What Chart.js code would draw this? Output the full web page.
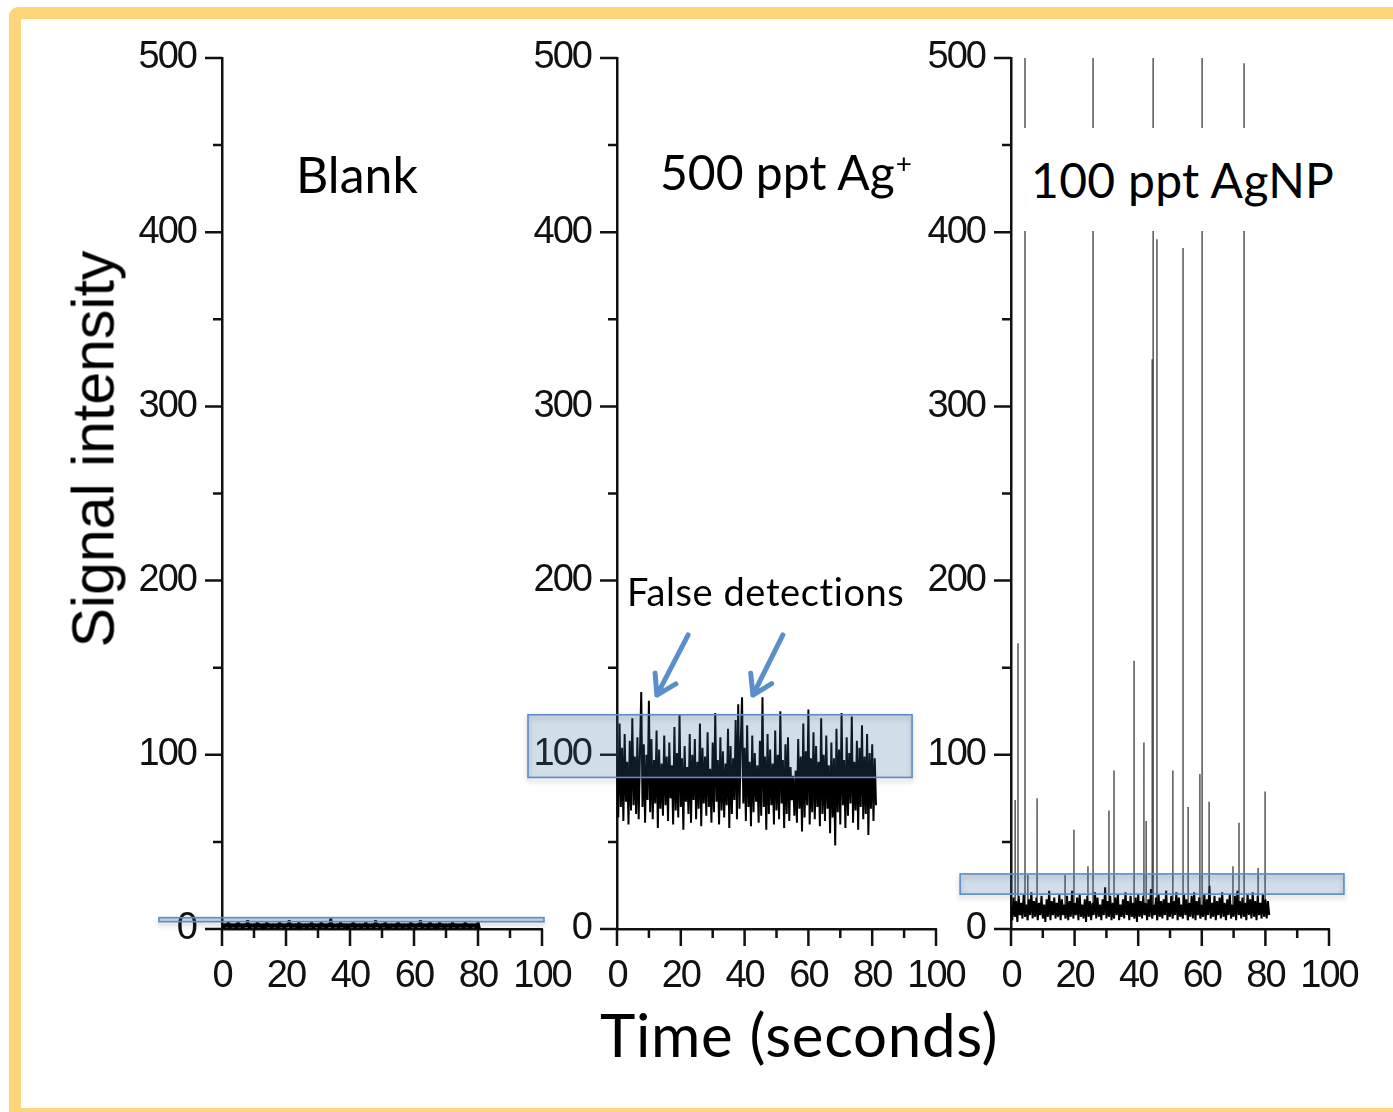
<!DOCTYPE html>
<html>
<head>
<meta charset="utf-8">
<title>Signal intensity vs time</title>
<script src="https://cdn.jsdelivr.net/npm/chart.js@4.4.1/dist/chart.umd.min.js"></script>
<style>
  body { margin: 0; background: #fff; width: 1393px; height: 1112px; overflow: hidden; position: relative; }
  .frame { position: absolute; left: 9px; top: 7px; width: 1420px; height: 1113px; border: 12px solid #fdd67b; border-radius: 9px; box-sizing: border-box; }
  canvas { position: absolute; top: 0; }
  .lbl { position: absolute; font-family: Lato, sans-serif; color: #000; white-space: nowrap; }
  .lbl sup { font-size: 0.58em; vertical-align: 0; position: relative; top: -0.62em; margin-left: 1px; }
</style>
</head>
<body>
<div class="frame"></div>
<canvas id="blankChart" width="475" height="1000" style="left:112px"></canvas>
<canvas id="ionChart" width="474" height="1000" style="left:507px"></canvas>
<canvas id="npChart" width="473" height="1000" style="left:901px"></canvas>

<div class="lbl" style="left:296px; top:149px; font-size:50px; line-height:50px;">Blank</div>
<div class="lbl" style="left:660px; top:148px; font-size:48px; line-height:48px;">500 ppt Ag<sup>+</sup></div>
<div class="lbl" style="left:1018px; top:128px; width:309px; height:103px; padding-left:13px; background:#fff; font-size:48px; line-height:103px; letter-spacing:0.3px;">100 ppt AgNP</div>
<div class="lbl" style="left:627px; top:572px; font-size:38px; line-height:38px; letter-spacing:0.6px;">False detections</div>
<div class="lbl" style="left:94px; top:449px; font-family:'Liberation Sans', Arial, sans-serif; font-size:59px; line-height:59px; transform:translate(-50%,-50%) rotate(-90deg);">Signal intensity</div>
<div class="lbl" style="left:600px; top:1004px; font-size:60px; line-height:60px; letter-spacing:0.7px;">Time (seconds)</div>

<script>
// ---- tick values (shared by all three panels) ----
const yTickValues  = [0, 100, 200, 300, 400, 500];
const yMinorValues = [50, 150, 250, 350, 450];
const xTickValues  = [0, 20, 40, 60, 80, 100];
const xMinorValues = [10, 30, 50, 70, 90];

// ---- Blank: detector counts, one reading every 0.5 s ----
const blankStep = 0.5;
const blankSignal = [
  3,0,3,1,4,0,3,1,3,0,4,1,3,0,3,1,5,0,3,1,3,0,4,1,3,0,3,0,4,1,
  3,0,3,1,3,0,4,1,3,0,3,1,5,0,3,1,3,0,4,0,3,1,3,0,3,1,4,0,3,1,
  3,0,4,1,3,0,3,1,6,0,3,1,3,0,4,1,3,0,3,0,3,1,4,0,3,1,3,0,3,1,
  4,0,3,1,3,0,5,1,3,0,3,1,4,0,3,0,3,1,3,0,4,1,3,0,3,1,3,0,4,1,
  3,0,3,1,5,0,3,1,3,0,4,1,3,0,3,0,4,1,3,0,3,1,3,0,4,1,3,0,3,1,
  3,0,4,1,3,0,3,1,3,0,4,0
];

// ---- 500 ppt Ag+: one reading every 0.4 s ----
const ionStep = 0.4;
const ionSignal = [
  98,64,118,70,104,62,112,73,96,60,108,68,121,71,99,66,110,63,102,136,
  70,106,61,100,74,131,67,109,63,97,72,114,58,103,69,95,65,111,71,99,
  62,107,75,94,60,116,68,101,64,123,70,98,57,105,73,93,66,112,61,100,
  74,109,63,96,69,118,59,104,72,99,65,113,70,92,61,107,67,124,73,97,
  60,110,68,102,64,95,71,115,58,105,66,98,74,120,63,129,69,108,133,72,
  104,62,117,70,96,59,111,67,101,73,94,61,108,65,133,70,99,57,112,66,
  103,71,95,60,114,68,100,63,125,72,97,58,106,66,110,62,93,74,88,65,
  91,61,109,69,99,56,118,64,102,71,126,60,98,67,113,63,105,70,96,59,
  121,66,100,62,111,69,94,55,107,64,98,48,115,67,103,60,124,71,97,58,
  110,65,101,72,122,61,96,68,108,57,104,70,117,63,99,66,112,54,101,69,
  106,62,98,71
];

// ---- 100 ppt AgNP: baseline every 0.4 s plus particle events ----
const npStep = 0.4;
const npBaseline = [
  13,5,18,7,16,4,19,8,15,6,20,7,14,5,17,8,21,6,16,7,
  18,5,15,8,19,6,14,4,17,7,22,5,16,8,18,6,15,7,20,5,
  17,8,14,6,19,5,16,7,22,6,15,8,18,5,20,7,14,6,17,4,
  19,7,16,5,15,8,21,6,18,7,14,5,17,8,24,6,16,7,19,5,
  15,6,18,8,20,5,14,7,17,6,21,8,16,5,19,7,15,6,18,4,
  20,7,16,6,19,8,15,5,17,7,23,6,14,8,18,5,20,7,16,6,
  17,8,22,5,15,7,19,6,16,8,21,5,18,7,14,6,20,8,17,5,
  15,7,19,6,21,5,16,8,18,6,14,7,20,5,17,8,25,6,15,7,
  19,5,16,8,18,6,21,7,15,5,17,8,20,6,14,7,19,5,22,8,
  16,6,18,7,15,5,20,8,17,6,21,7,16,5,19,8,15,6,20,7,
  17,6,16,8
];
const spikeTimes  = [1.3, 2.2, 4.4, 5.3, 8.2, 17.0, 19.8, 24.2, 25.8, 30.8, 32.4, 38.7, 41.8, 42.5,
                     44.4, 44.7, 45.9, 50.9, 54.1, 55.7, 59.4, 60.1, 62.3, 69.8, 71.7, 73.3, 77.7, 79.9];
const spikeValues = [74, 164, 620, 31, 75, 31, 57, 36, 620, 68, 91, 154, 107, 62,
                     327, 620, 396, 91, 391, 70, 89, 620, 73, 36, 61, 497, 35, 79];

// highlight boxes (data units of each panel)
const blankBox = { x0: -19.7, x1: 100.6, y0: 4.2, y1: 6.5 };
const ionBox   = { x0: -27.9, x1: 92.5, y0: 87, y1: 123 };
const npBox    = { x0: -16, x1: 104.7, y0: 20, y1: 31.6 };

// arrows pointing at false detections: [fromX, fromY, tipX, tipY]
const ionArrows = [
  [22.3, 168.8, 12.5, 134.3],
  [52.0, 168.8, 42.6, 134.3]
];

const axisColor = '#111';
const tickFont  = { family: "'Liberation Sans', Arial, sans-serif", size: 38 };

const series = (values, step) => values.map((v, i) => ({ x: +(i * step).toFixed(2), y: v }));

// each particle event drawn as a vertical stroke up from the local baseline
const spikeSegments = spikeTimes.flatMap((t, i) => [
  { x: t, y: npBaseline[Math.round(t / npStep)] },
  { x: t, y: spikeValues[i] },
  { x: t, y: null }
]);

const traceStyle = { borderColor: '#000', borderWidth: 2, borderJoinStyle: 'bevel', pointRadius: 0, tension: 0 };

// tighter digits on the tick labels
const tightText = {
  id: 'tightText',
  beforeDraw(chart) { chart.ctx.letterSpacing = '-2px'; }
};

// long ticks every 100 / 20, short ticks in between
const axisTicks = {
  id: 'axisTicks',
  beforeDatasetsDraw(chart) {
    const { ctx, chartArea: area, scales: { x, y } } = chart;
    ctx.save();
    ctx.strokeStyle = axisColor;
    ctx.lineWidth = 2.5;
    ctx.beginPath();
    yTickValues.forEach(v => { const p = y.getPixelForValue(v); ctx.moveTo(area.left - 17, p); ctx.lineTo(area.left, p); });
    yMinorValues.forEach(v => { const p = y.getPixelForValue(v); ctx.moveTo(area.left - 9, p); ctx.lineTo(area.left, p); });
    xTickValues.forEach(v => { const p = x.getPixelForValue(v); ctx.moveTo(p, area.bottom); ctx.lineTo(p, area.bottom + 17); });
    xMinorValues.forEach(v => { const p = x.getPixelForValue(v); ctx.moveTo(p, area.bottom); ctx.lineTo(p, area.bottom + 9); });
    ctx.stroke();
    ctx.restore();
  }
};

// translucent box over a band of the trace
const highlight = {
  id: 'highlight',
  afterDatasetsDraw(chart, args, opts) {
    const b = opts.box;
    if (!b) return;
    const { ctx, scales: { x, y } } = chart;
    const l = x.getPixelForValue(b.x0), r = x.getPixelForValue(b.x1);
    const t = y.getPixelForValue(b.y1), btm = y.getPixelForValue(b.y0);
    ctx.save();
    ctx.fillStyle = 'rgba(58,110,160,0.23)';
    ctx.fillRect(l, t, r - l, btm - t);
    ctx.shadowColor = 'rgba(0,0,0,0.28)';
    ctx.shadowBlur = 5;
    ctx.shadowOffsetY = 3;
    ctx.strokeStyle = '#5b8bc9';
    ctx.lineWidth = 1.6;
    ctx.strokeRect(l, t, r - l, btm - t);
    ctx.restore();
  }
};

const arrows = {
  id: 'arrows',
  afterDraw(chart, args, opts) {
    if (!opts.list) return;
    const { ctx, scales: { x, y } } = chart;
    ctx.save();
    ctx.strokeStyle = '#5b8fcb';
    ctx.lineWidth = 5;
    ctx.lineCap = 'round';
    ctx.lineJoin = 'round';
    opts.list.forEach(([fx, fy, tx, ty]) => {
      const x0 = x.getPixelForValue(fx), y0 = y.getPixelForValue(fy);
      const x1 = x.getPixelForValue(tx), y1 = y.getPixelForValue(ty);
      const ang = Math.atan2(y1 - y0, x1 - x0);
      const head = 22, spread = Math.PI / 5.6;
      ctx.beginPath();
      ctx.moveTo(x0, y0);
      ctx.lineTo(x1, y1);
      ctx.moveTo(x1 - head * Math.cos(ang - spread), y1 - head * Math.sin(ang - spread));
      ctx.lineTo(x1, y1);
      ctx.lineTo(x1 - head * Math.cos(ang + spread), y1 - head * Math.sin(ang + spread));
      ctx.stroke();
    });
    ctx.restore();
  }
};

function makePanel(id, datasets, box, arrowList) {
  return new Chart(document.getElementById(id), {
    type: 'line',
    data: { datasets: datasets },
    options: {
      responsive: false,
      animation: false,
      events: [],
      spanGaps: false,
      layout: { padding: { top: 58, right: 45, left: 0, bottom: 0 } },
      plugins: {
        legend: { display: false },
        tooltip: { enabled: false },
        highlight: { box: box },
        arrows: { list: arrowList }
      },
      scales: {
        x: {
          type: 'linear',
          min: 0,
          max: 100,
          afterBuildTicks: s => { s.ticks = xTickValues.map(v => ({ value: v })); },
          afterFit: s => { s.height = 71; },
          grid: { display: false, tickLength: 17 },
          border: { color: axisColor, width: 2.5 },
          ticks: { font: tickFont, color: axisColor, padding: 8, autoSkip: false, maxRotation: 0, minRotation: 0 }
        },
        y: {
          type: 'linear',
          min: 0,
          max: 500,
          afterBuildTicks: s => { s.ticks = yTickValues.map(v => ({ value: v })); },
          afterFit: s => { s.width = 110; },
          grid: { display: false, tickLength: 17 },
          border: { color: axisColor, width: 2.5 },
          ticks: { font: tickFont, color: axisColor, padding: 9 }
        }
      }
    },
    plugins: [tightText, axisTicks, highlight, arrows]
  });
}

makePanel('blankChart', [{ ...traceStyle, borderWidth: 2.8, data: series(blankSignal, blankStep) }], blankBox, null);
makePanel('ionChart', [{ ...traceStyle, data: series(ionSignal, ionStep) }], ionBox, ionArrows);
makePanel('npChart', [
  { ...traceStyle, data: series(npBaseline, npStep) },
  { data: spikeSegments, borderColor: '#4a4a4a', borderWidth: 1.4, pointRadius: 0, tension: 0 }
], npBox, null);
</script>
</body>
</html>
